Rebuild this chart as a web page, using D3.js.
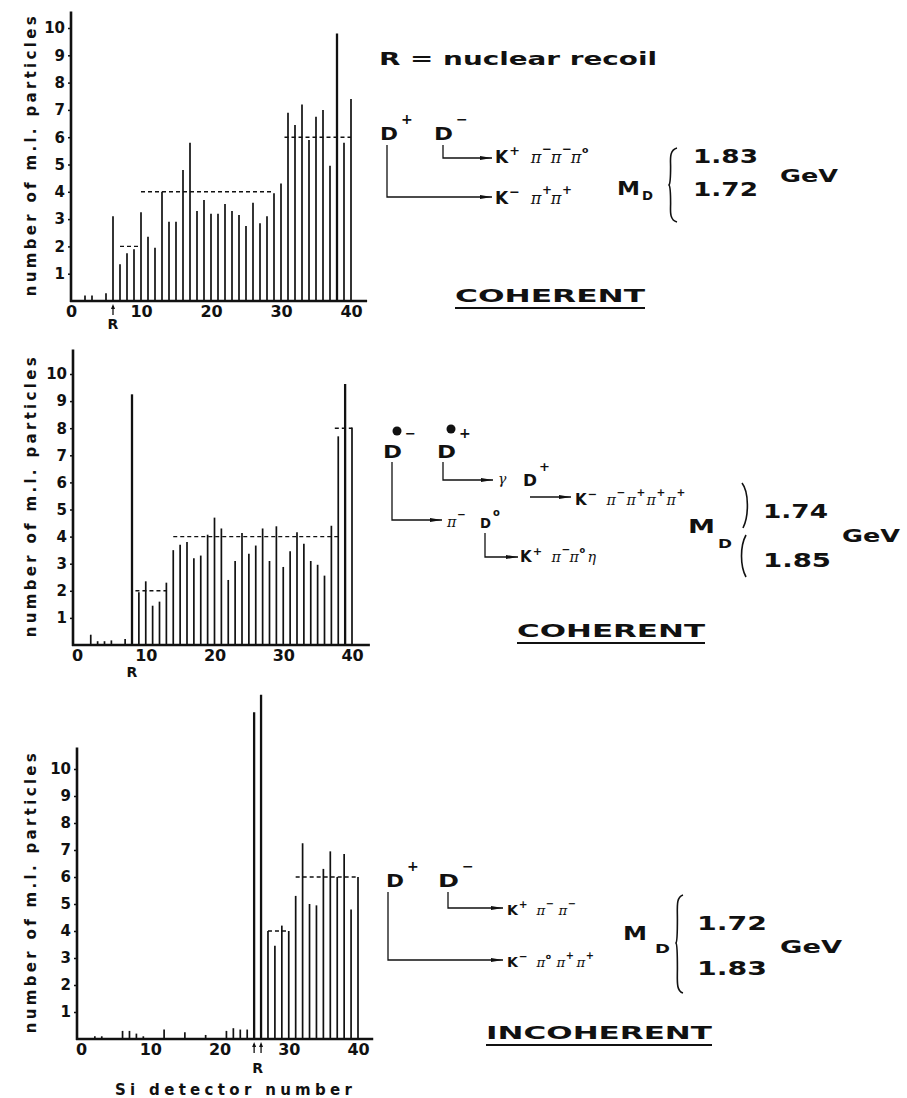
<!DOCTYPE html>
<html>
<head>
<meta charset="utf-8">
<script src="https://cdn.jsdelivr.net/npm/d3@7"></script>
<style>
  body { margin: 0; background: #fff; }
  svg text { font-family: "DejaVu Sans", sans-serif; font-weight: bold; fill: #111; }
</style>
</head>
<body>
<svg id="fig" width="907" height="1098"></svg>
<script>
// ---- data (detector number -> m.i. particles) ----
const det1 = [2, 3, 5, 6, 7, 8, 9, 10, 11, 12, 13, 14, 15, 16, 17, 18, 19, 20, 21, 22, 23, 24, 25, 26, 27, 28, 29, 30, 31, 32, 33, 34, 35, 36, 37, 38, 39, 40];
const val1 = [0.2, 0.2, 0.28, 3.1, 1.35, 1.75, 1.9, 3.25, 2.35, 1.95, 4.0, 2.9, 2.9, 4.8, 5.8, 3.3, 3.7, 3.2, 3.2, 3.55, 3.3, 3.15, 2.75, 3.6, 2.85, 3.1, 3.95, 4.3, 6.9, 6.45, 7.2, 5.9, 6.75, 7.0, 4.95, 9.8, 5.8, 7.4];
const avg1 = [{from: 7, to: 10, level: 2}, {from: 10, to: 29, level: 4}, {from: 30.5, to: 40, level: 6}];
const recoil1 = [6];

const det2 = [2, 3, 4, 5, 7, 8, 9, 10, 11, 12, 13, 14, 15, 16, 17, 18, 19, 20, 21, 22, 23, 24, 25, 26, 27, 28, 29, 30, 31, 32, 33, 34, 35, 36, 37, 38, 39, 40];
const val2 = [0.38, 0.14, 0.14, 0.17, 0.22, 9.25, 1.95, 2.35, 1.45, 1.6, 2.3, 3.5, 3.7, 3.8, 3.2, 3.3, 4.07, 4.7, 4.3, 2.4, 3.1, 4.13, 3.37, 3.67, 4.3, 3.1, 4.38, 2.88, 3.46, 4.16, 3.74, 3.1, 2.96, 2.56, 4.4, 7.7, 9.63, 8.03];
const avg2 = [{from: 8.5, to: 13, level: 2}, {from: 14, to: 38, level: 4}, {from: 37.5, to: 40, level: 8}];
const recoil2 = [8];

const det3 = [2, 3, 6, 7, 8, 9, 12, 15, 18, 21, 22, 23, 24, 25, 26, 27, 28, 29, 30, 31, 32, 33, 34, 35, 36, 37, 38, 39, 40];
const val3 = [0.1, 0.1, 0.3, 0.3, 0.2, 0.1, 0.35, 0.25, 0.15, 0.3, 0.4, 0.35, 0.35, 12.1, 12.75, 4.0, 3.45, 4.2, 4.0, 5.3, 7.25, 5.0, 4.95, 6.3, 6.95, 6.0, 6.85, 4.8, 6.0];
const avg3 = [{from: 27, to: 30, level: 4}, {from: 31, to: 40, level: 6}];
const recoil3 = [25, 26];

const yTicks = [1, 2, 3, 4, 5, 6, 7, 8, 9, 10];
const xTicks = [0, 10, 20, 30, 40];
const yTitle = "number of m.l. particles";
const xTitle = "Si detector number";

// ---- layout of the three panels ----
const panels = [
  {det: det1, val: val1, avg: avg1, recoil: recoil1, axisX: 71, x0: 71, x40: 351, y0: 301, y10: 28, top: 10.6, right: 42.3, rY: 329, arrows: true},
  {det: det2, val: val2, avg: avg2, recoil: recoil2, axisX: 73, x0: 77, x40: 352, y0: 645, y10: 374, top: 10.9, right: 42.6, rY: 677, arrows: false},
  {det: det3, val: val3, avg: avg3, recoil: recoil3, axisX: 77, x0: 81, x40: 358, y0: 1039, y10: 769, top: 10.8, right: 42.2, rY: 1073, arrows: true}
];

const svg = d3.select("#fig");
const ink = "#111";

panels.forEach((p, pi) => {
  const x = d3.scaleLinear().domain([0, 40]).range([p.x0, p.x40]);
  const y = d3.scaleLinear().domain([0, 10]).range([p.y0, p.y10]);
  const g = svg.append("g");

  // stems
  const rows = p.det.map((d, i) => ({d: d, v: p.val[i]}));
  g.selectAll("line.stem").data(rows).join("line")
    .attr("class", "stem")
    .attr("x1", d => x(d.d)).attr("x2", d => x(d.d))
    .attr("y1", y(0)).attr("y2", d => y(d.v))
    .attr("stroke", ink)
    .attr("stroke-width", d => d.v > 9 ? 2.3 : 1.7);

  // dotted average levels
  g.selectAll("line.avg").data(p.avg).join("line")
    .attr("class", "avg")
    .attr("x1", d => x(d.from)).attr("x2", d => x(d.to))
    .attr("y1", d => y(d.level)).attr("y2", d => y(d.level))
    .attr("stroke", ink).attr("stroke-width", 1.4)
    .attr("stroke-dasharray", "4,3");

  // axes lines
  g.append("line")
    .attr("x1", p.axisX).attr("x2", p.axisX)
    .attr("y1", y(0) + 1).attr("y2", y(p.top))
    .attr("stroke", ink).attr("stroke-width", 2.6);
  g.append("line")
    .attr("x1", p.axisX - 1).attr("x2", x(p.right))
    .attr("y1", y(0)).attr("y2", y(0))
    .attr("stroke", ink).attr("stroke-width", 2.6);

  // y ticks
  const ya = g.append("g")
    .attr("transform", `translate(${p.axisX},0)`)
    .call(d3.axisLeft(y).tickValues(yTicks).tickSize(3).tickPadding(3));
  ya.select(".domain").remove();
  ya.selectAll(".tick line").attr("stroke", ink).attr("stroke-width", 1.5);
  ya.selectAll("text").attr("font-size", 15).attr("fill", ink)
    .style("font-family", '"DejaVu Sans", sans-serif').style("font-weight", "bold");

  // x ticks
  const xa = g.append("g")
    .attr("transform", `translate(0,${y(0)})`)
    .call(d3.axisBottom(x).tickValues(xTicks).tickSize(0).tickPadding(5));
  xa.select(".domain").remove();
  xa.selectAll("text").attr("font-size", 16).attr("fill", ink)
    .style("font-family", '"DejaVu Sans", sans-serif').style("font-weight", "bold");

  // y title
  const cy = (y(0) + y(p.top)) / 2;
  g.append("text")
    .attr("transform", `translate(36,${cy}) rotate(-90)`)
    .attr("text-anchor", "middle")
    .attr("font-size", 15)
    .attr("textLength", 280).attr("lengthAdjust", "spacing")
    .text(yTitle);

  // recoil marker
  const rx = d3.mean(p.recoil, d => x(d));
  if (p.arrows) {
    p.recoil.forEach(d => {
      const ax = x(d), ay = y(0) + 3;
      g.append("line").attr("x1", ax).attr("x2", ax).attr("y1", ay + 11).attr("y2", ay + 2)
        .attr("stroke", ink).attr("stroke-width", 1.3);
      g.append("path").attr("d", `M${ax - 2},${ay + 5} L${ax},${ay} L${ax + 2},${ay + 5} Z`).attr("fill", ink);
    });
  }
  g.append("text").attr("x", rx).attr("y", p.rY).attr("text-anchor", "middle")
    .attr("font-size", 14).text("R");

  if (pi === 2) {
    g.append("text").attr("x", 115).attr("y", 1095)
      .attr("font-size", 15).attr("textLength", 237).attr("lengthAdjust", "spacing")
      .text(xTitle);
  }
});

// ---- annotation helpers ----
function txt(x, y, s, size, opts) {
  opts = opts || {};
  const t = svg.append("text").attr("x", x).attr("y", y).attr("font-size", size).text(s);
  if (opts.len) t.attr("textLength", opts.len).attr("lengthAdjust", "spacingAndGlyphs");
  if (opts.anchor) t.attr("text-anchor", opts.anchor);
  if (opts.greek) t.style("font-family", '"DejaVu Serif", serif').style("font-style", "italic").style("font-weight", "normal");
  return t;
}

// decay products: [symbol, sign, greek?]
function chain(x, y, parts, size, step) {
  let cx = x;
  parts.forEach(([name, sign, greek]) => {
    if (greek) {
      const t = txt(cx, y, name, size * 0.95, {greek: true});
      const w = t.node().getComputedTextLength();
      if (sign) txt(cx + w + 0.5, y - size * 0.6, sign, size * (sign === "o" ? 0.55 : 0.7));
      cx += step;
    } else {
      const t = txt(cx, y, name, size);
      const w = t.node().getComputedTextLength();
      let sw = 0;
      if (sign) sw = txt(cx + w + 1, y - size * 0.5, sign, size * 0.75).node().getComputedTextLength();
      cx += w + sw + size * 0.7;
    }
  });
}

function arrowLine(pts) {
  const line = d3.line();
  svg.append("path").attr("d", line(pts)).attr("fill", "none").attr("stroke", ink).attr("stroke-width", 1.3);
  const [ex, ey] = pts[pts.length - 1];
  svg.append("path").attr("d", `M${ex - 12},${ey - 2} L${ex},${ey} L${ex - 12},${ey + 2} Z`).attr("fill", ink);
}

function brace(xTop, yTop, xMid, yMid, yBot) {
  const k = (xTop - xMid);
  const d = `M${xTop},${yTop} C${xTop - k},${yTop + 2} ${xTop - k * 0.8},${yTop + 12} ${xTop - k * 0.8},${(yTop + yMid) / 2}` +
            ` C${xTop - k * 0.8},${yMid - 6} ${xMid + 1},${yMid - 1} ${xMid},${yMid}` +
            ` C${xMid + 1},${yMid + 1} ${xTop - k * 0.8},${yMid + 6} ${xTop - k * 0.8},${(yMid + yBot) / 2}` +
            ` C${xTop - k * 0.8},${yBot - 12} ${xTop - k},${yBot - 2} ${xTop},${yBot}`;
  svg.append("path").attr("d", d).attr("fill", "none").attr("stroke", ink).attr("stroke-width", 1.6);
}

function underlined(x, y, s, len) {
  txt(x, y, s, 17, {len: len});
  svg.append("line").attr("x1", x).attr("x2", x + len).attr("y1", y + 6).attr("y2", y + 6)
    .attr("stroke", ink).attr("stroke-width", 2);
}

// ---- panel 1 annotations ----
txt(379, 65, "R = nuclear recoil", 18, {len: 278});
txt(380, 140, "D", 18, {len: 18}); txt(401, 124, "+", 14);
txt(434, 140, "D", 18, {len: 19}); txt(456, 124, "\u2212", 14);
arrowLine([[443, 145], [443, 158], [492, 158]]);
chain(495, 163, [["K", "+"], ["\u03c0", "\u2212", 1], ["\u03c0", "\u2212", 1], ["\u03c0", "o", 1]], 17, 20);
arrowLine([[387, 145], [387, 197], [492, 197]]);
chain(495, 204, [["K", "\u2212"], ["\u03c0", "+", 1], ["\u03c0", "+", 1]], 17, 20);
txt(617, 195, "M", 20, {len: 23});
txt(642, 200, "D", 13, {len: 11});
brace(677, 148, 669, 185, 222);
txt(693, 163, "1.83", 20, {len: 65});
txt(693, 196, "1.72", 20, {len: 65});
txt(780, 182, "GeV", 18, {len: 58});
underlined(455, 302, "COHERENT", 190);

// ---- panel 2 annotations ----
txt(383, 458, "D", 18, {len: 19});
svg.append("circle").attr("cx", 397).attr("cy", 431).attr("r", 4.5).attr("fill", ink);
txt(405, 438, "\u2212", 13);
txt(437, 458, "D", 18, {len: 19});
svg.append("circle").attr("cx", 451).attr("cy", 429).attr("r", 4.5).attr("fill", ink);
txt(459, 438, "+", 14);
arrowLine([[443, 462], [443, 480], [493, 480]]);
txt(498, 484, "\u03b3", 14, {greek: true});
txt(523, 486, "D", 15, {len: 14}); txt(539, 471, "+", 13);
arrowLine([[530, 497], [571, 497]]);
chain(575, 505, [["K", "\u2212"], ["\u03c0", "\u2212", 1], ["\u03c0", "+", 1], ["\u03c0", "+", 1], ["\u03c0", "+", 1]], 15, 20);
arrowLine([[392, 462], [392, 520], [442, 520]]);
chain(447, 527, [["\u03c0", "\u2212", 1]], 15, 20);
txt(480, 528, "D", 14, {len: 11}); txt(493, 516, "o", 10);
arrowLine([[485, 533], [485, 557], [518, 557]]);
chain(520, 562, [["K", "+"], ["\u03c0", "\u2212", 1], ["\u03c0", "o", 1], ["\u03b7", null, 1]], 15, 18);
txt(688, 533, "M", 20, {len: 27});
txt(718, 548, "D", 13, {len: 14});
svg.append("path").attr("d", "M742,483 C749,492 749,516 743,528").attr("fill", "none").attr("stroke", ink).attr("stroke-width", 1.6);
svg.append("path").attr("d", "M746,535 C740,546 740,566 746,577").attr("fill", "none").attr("stroke", ink).attr("stroke-width", 1.6);
txt(763, 518, "1.74", 20, {len: 65});
txt(763, 567, "1.85", 20, {len: 68});
txt(842, 542, "GeV", 18, {len: 58});
underlined(517, 637, "COHERENT", 188);

// ---- panel 3 annotations ----
txt(386, 887, "D", 18, {len: 18}); txt(407, 871, "+", 14);
txt(438, 887, "D", 18, {len: 21}); txt(462, 871, "\u2212", 14);
arrowLine([[448, 892], [448, 908], [503, 908]]);
chain(507, 915, [["K", "+"], ["\u03c0", "\u2212", 1], ["\u03c0", "\u2212", 1]], 14, 22);
arrowLine([[388, 892], [388, 960], [503, 960]]);
chain(507, 967, [["K", "\u2212"], ["\u03c0", "o", 1], ["\u03c0", "+", 1], ["\u03c0", "+", 1]], 14, 20);
txt(623, 940, "M", 20, {len: 24});
txt(655, 953, "D", 13, {len: 15});
brace(683, 895, 676, 943, 993);
txt(697, 930, "1.72", 20, {len: 70});
txt(697, 975, "1.83", 20, {len: 70});
txt(780, 953, "GeV", 18, {len: 62});
underlined(486, 1039, "INCOHERENT", 226);
</script>
</body>
</html>
